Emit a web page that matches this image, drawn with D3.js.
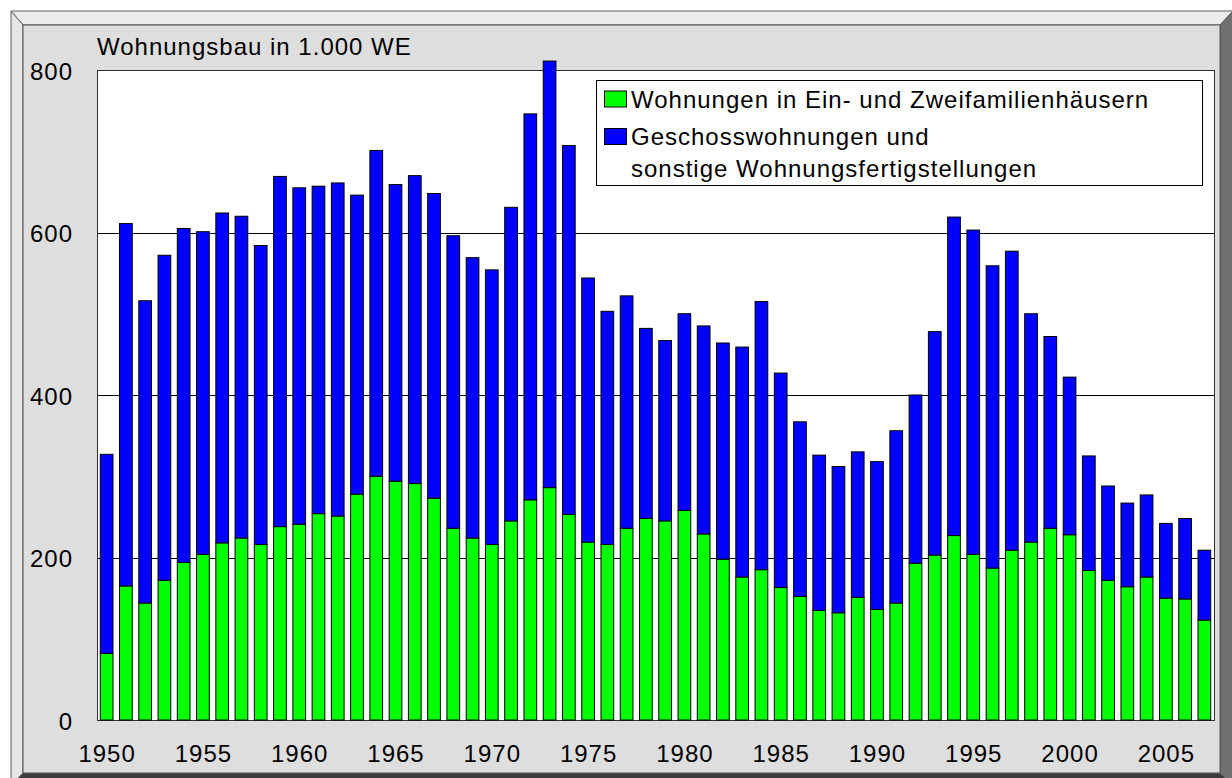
<!DOCTYPE html>
<html>
<head>
<meta charset="utf-8">
<script src="https://cdn.jsdelivr.net/npm/d3@7"></script>
<style>
  body { margin: 0; background: #fff; }
  text { font-family: "Liberation Sans", Arial, sans-serif; }
</style>
</head>
<body>
<div id="plot"></div>
<script>
// Data (1.000 WE)
const years = d3.range(1950, 2008);
const einZweiFamilien = [
  82, 165, 144, 172, 194, 204, 218, 224, 216, 238,
  241, 254, 251, 278, 300, 294, 291, 273, 236, 224,
  216, 245, 271, 286, 253, 219, 216, 236, 248, 245,
  258, 229, 198, 176, 185, 163, 152, 135, 132, 151,
  136, 144, 193, 203, 227, 204, 187, 209, 219, 236,
  228, 184, 172, 164, 176, 150, 149, 123
];
const geschoss = [
  245, 446, 372, 400, 411, 397, 406, 396, 368, 431,
  414, 403, 410, 368, 401, 365, 379, 375, 360, 345,
  338, 386, 475, 525, 454, 325, 287, 286, 234, 222,
  242, 256, 266, 283, 330, 264, 215, 191, 180, 179,
  182, 212, 207, 275, 392, 399, 372, 368, 281, 236,
  194, 141, 116, 103, 101, 92, 99, 86
];
const yTicks = [0, 200, 400, 600, 800];
const xTicks = [1950, 1955, 1960, 1965, 1970, 1975, 1980, 1985, 1990, 1995, 2000, 2005];
const seriesNames = ["Wohnungen in Ein- und Zweifamilienhäusern",
                     ["Geschosswohnungen und", "sonstige Wohnungsfertigstellungen"]];
const colors = ["#00ff00", "#0000ff"];

const W = 1232, H = 778;
const plot = { left: 97, right: 1214, top: 70, bottom: 720 };
const fontSize = 24, spacing = 1;

const svg = d3.select("#plot").append("svg")
    .attr("width", W)
    .attr("height", H);

// 3D frame around the chart
const o = { l: 11, t: 11, r: 1233, b: 786 };
const p = { l: 23, t: 25, r: 1220, b: 773 };
const bevel = [
  { pts: [[o.l, o.t], [o.r, o.t], [p.r, p.t], [p.l, p.t]], fill: "#ebebeb" },
  { pts: [[o.l, o.t], [p.l, p.t], [p.l, p.b], [o.l, o.b]], fill: "#e6e6e6" },
  { pts: [[o.r, o.t], [o.r, o.b], [p.r, p.b], [p.r, p.t]], fill: "#707070" },
  { pts: [[o.l, o.b], [p.l, p.b], [p.r, p.b], [o.r, o.b]], fill: "#3c3c3c" }
];
svg.selectAll(".bevel")
    .data(bevel)
    .enter()
    .append("polygon")
    .attr("points", d => d.pts.map(q => q.join(",")).join(" "))
    .attr("fill", d => d.fill)
    .attr("stroke", "#606060")
    .attr("stroke-width", 1);

svg.append("rect")
    .attr("x", p.l).attr("y", p.t)
    .attr("width", p.r - p.l).attr("height", p.b - p.t)
    .attr("fill", "#dedede")
    .attr("stroke", "#505050");

// Scales
const x = d3.scaleBand()
    .domain(years)
    .range([plot.left, plot.right])
    .paddingInner(0.34)
    .paddingOuter(0.17);

const y = d3.scaleLinear()
    .domain([0, 800])
    .range([plot.bottom, plot.top]);

// Plot area
svg.append("rect")
    .attr("x", plot.left).attr("y", plot.top)
    .attr("width", plot.right - plot.left).attr("height", plot.bottom - plot.top)
    .attr("fill", "#fff");

// Gridlines
svg.append("g")
    .selectAll("line")
    .data(yTicks.filter(t => t > 0 && t < 800))
    .enter()
    .append("line")
    .attr("x1", plot.left).attr("x2", plot.right)
    .attr("y1", d => Math.round(y(d)) + 0.5)
    .attr("y2", d => Math.round(y(d)) + 0.5)
    .attr("stroke", "#000")
    .attr("stroke-width", 1);

svg.append("rect")
    .attr("x", plot.left + 0.5).attr("y", plot.top + 0.5)
    .attr("width", plot.right - plot.left).attr("height", plot.bottom - plot.top)
    .attr("fill", "none")
    .attr("stroke", "#303030");

// Stacked bars
const table = years.map((yr, i) => ({ year: yr, ez: einZweiFamilien[i], gw: geschoss[i] }));
const stack = d3.stack().keys(["ez", "gw"])(table);

svg.append("g")
    .selectAll("g")
    .data(stack)
    .enter()
    .append("g")
    .attr("fill", (d, i) => colors[i])
    .selectAll("rect")
    .data(d => d)
    .enter()
    .append("rect")
    .attr("x", d => x(d.data.year))
    .attr("y", d => y(d[1]))
    .attr("width", x.bandwidth())
    .attr("height", d => y(d[0]) - y(d[1]))
    .attr("stroke", "#000")
    .attr("stroke-width", 1);

// Y axis labels
svg.append("g")
    .selectAll("text")
    .data(yTicks)
    .enter()
    .append("text")
    .attr("x", 73)
    .attr("y", d => y(d))
    .attr("dy", "0.4em")
    .attr("text-anchor", "end")
    .style("font-size", fontSize + "px")
    .style("letter-spacing", spacing + "px")
    .text(d => d);

// X axis labels
svg.append("g")
    .selectAll("text")
    .data(xTicks)
    .enter()
    .append("text")
    .attr("x", d => x(d) + x.bandwidth() / 2 + 0.5)
    .attr("y", 762)
    .attr("text-anchor", "middle")
    .style("font-size", fontSize + "px")
    .style("letter-spacing", spacing + "px")
    .text(d => d);

// Title
svg.append("text")
    .attr("x", 97)
    .attr("y", 55)
    .style("font-size", fontSize + "px")
    .style("letter-spacing", spacing + "px")
    .text("Wohnungsbau in 1.000 WE");

// Legend
const legend = svg.append("g");
legend.append("rect")
    .attr("x", 596.5).attr("y", 80.5)
    .attr("width", 606).attr("height", 105)
    .attr("fill", "#fff")
    .attr("stroke", "#000");

const rows = [107.5, 145];
legend.selectAll(".sw")
    .data(colors)
    .enter()
    .append("rect")
    .attr("x", 604.5)
    .attr("y", (d, i) => rows[i] - 16.5)
    .attr("width", 22)
    .attr("height", 16)
    .attr("fill", d => d)
    .attr("stroke", "#000");

seriesNames.forEach((name, i) => {
  const lines = Array.isArray(name) ? name : [name];
  const t = legend.append("text")
      .attr("x", 631)
      .attr("y", rows[i])
      .style("font-size", fontSize + "px")
      .style("letter-spacing", spacing + "px");
  lines.forEach((ln, j) => {
    t.append("tspan")
      .attr("x", 631)
      .attr("dy", j === 0 ? 0 : 32)
      .text(ln);
  });
});
</script>
</body>
</html>
